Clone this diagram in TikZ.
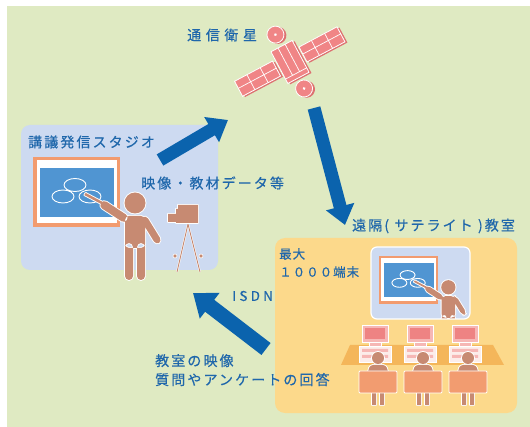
\documentclass[tikz,border=0pt]{standalone}
\usepackage{fontspec}
\usetikzlibrary{arrows.meta}
\newfontfamily\jpfont[LetterSpace=15,FakeBold=0.4]{Noto Sans CJK JP}
\newfontfamily\jpwidefont[LetterSpace=33,FakeBold=0.4]{Noto Sans CJK JP}
\newfontfamily\jpnarrowfont[LetterSpace=8,FakeBold=0.4]{Noto Sans CJK JP}
\newfontfamily\latinfont[LetterSpace=24,FakeBold=0.4]{Noto Sans CJK JP}
\definecolor{fieldgreen}{HTML}{DFEAC2}
\definecolor{studioblue}{HTML}{CDDAF1}
\definecolor{roomorange}{HTML}{FCD98B}
\definecolor{tableorange}{HTML}{F4B65A}
\definecolor{arrowblue}{HTML}{0B63AD}
\definecolor{textblue}{HTML}{1F67AB}
\definecolor{skinbrown}{HTML}{C78A72}
\definecolor{frameorange}{HTML}{F29B6F}
\definecolor{boardblue}{HTML}{5095D2}
\definecolor{satpink}{HTML}{F08586}
\definecolor{satshade}{HTML}{DD7070}
\definecolor{monitorpink}{HTML}{F6B7B5}
\definecolor{screenpink}{HTML}{EE8383}
\definecolor{keyboardwhite}{HTML}{FCEDEA}
\definecolor{chairorange}{HTML}{F29C70}
\tikzset{
  lbl/.style={font=\jpfont\fontsize{14}{19}\selectfont, text=textblue, inner sep=0pt, align=left},
  bigarrow/.style={draw=arrowblue, line width=13pt, -{Triangle[length=19pt,width=28pt]}},
  figoutline/.style={fill=white, draw=white, line width=1.8pt, line join=round},
  figfill/.style={fill=skinbrown},
  satpart/.style={fill=satpink, draw=white, line width=0.8pt},
  satshadow/.style={fill=satshade},
  tripod/.style={draw=white, double=skinbrown, double distance=0.9pt, line width=0.5pt},
  pics/lecture/.style={code={
    % board with three circles
    \fill[frameorange] (0,0) rectangle (87,70);
    \fill[white] (3.5,3.5) rectangle (83.5,66.5);
    \fill[boardblue] (7,11) rectangle (81,60);
    \draw[white, line width=0.9pt] (42,28) ellipse [x radius=11, y radius=6.5]
      (30,39.5) ellipse [x radius=11, y radius=6.5]
      (57,39.5) ellipse [x radius=11, y radius=6.5];
    % teacher with pointer
    \foreach \s in {figoutline,figfill} {
      \path[\s, shift={(102,46)}] (0,0) circle (10.5)
        (-10,45) [rounded corners=4pt] -- (-10,13) -- (10,13) -- (10,45) -- cycle
        (-10,40) -- (-10,77) -- (-2,77) -- (-2,40) -- cycle
        (2,40) -- (2,77) -- (10,77) -- (10,40) -- cycle
        (11,12.2) -- (27,38.2) -- (21,41.8) -- (5,15.8) -- cycle
        (-5.8,13.6) -- (-31.8,-3.4) -- (-36.2,3.4) -- (-10.2,20.4) -- cycle
        [sharp corners] (-32.4,-1.1) -- (-49.4,-10.1) -- (-50.6,-7.9) -- (-33.6,1.1) -- cycle;
    }
  }},
  pics/seat/.style={code={
    % computer
    \filldraw[monitorpink, draw=white, line width=0.8pt] (-13,0) rectangle (13,17);
    \fill[screenpink] (-10,3) rectangle (10,14);
    \filldraw[monitorpink, draw=white, line width=0.8pt] (-6,17) rectangle (6,21);
    \filldraw[keyboardwhite, draw=white, line width=0.8pt] (-16,21) rectangle (16,37);
    \fill[monitorpink] (-13,24) rectangle (13,27) (-13,30) rectangle (-2,33) (8,30) rectangle (13,33);
    % student
    \foreach \s in {figoutline,figfill} {
      \path[\s] (3,33) circle (6)
        (-8,50) [rounded corners=3pt] -- (-5,40) -- (11,40) -- (14,50) -- cycle
        [sharp corners] (-3,60) rectangle (1,80) (5,60) rectangle (9,80);
    }
    \filldraw[chairorange, draw=white, line width=0.8pt, rounded corners=1pt] (-16,46) rectangle (22,68);
  }}
}

\begin{document}
\begin{tikzpicture}[x=1pt, y=-1pt]
  \useasboundingbox (0,0) rectangle (530,427);
  \fill[white] (0,0) rectangle (530,427);
  \fill[fieldgreen] (7,6) rectangle (530,427);

  % studio
  \fill[studioblue, rounded corners=9pt] (21,125) rectangle (218,270);
  \pic at (33,157) {lecture};
  \draw[tripod] (188,224) -- (177,272) (188,224) -- (200,272);
  \filldraw[skinbrown, draw=white, line width=0.6pt] (175,256) circle (2) (201,256) circle (2);
  \foreach \s in {figoutline,figfill} {
    \path[\s] (176,209) -- (178,209) -- (178,205) -- (198,205) -- (198,223) -- (176,223) -- cycle
      (168,214) rectangle (176,222);
  }

  % satellite
  \begin{scope}[shift={(290,62)}, rotate=28]
    \foreach \s/\d in {satshadow/1.8,satpart/0} {
      \begin{scope}[shift={(\d,\d)}]
        \path[\s] (-58,-9) rectangle (-15,8) (15,-9) rectangle (58,8);
        \path[\s] (-12,-18) rectangle (12,18);
        \path[\s] (0,-31) circle (8.5) (0,30) circle (8.5);
      \end{scope}
    }
    \draw[white, line width=0.7pt] (-58,-1) -- (-15,-1) (-44,-9) -- (-44,8) (-29,-9) -- (-29,8)
      (15,-1) -- (58,-1) (29,-9) -- (29,8) (44,-9) -- (44,8)
      (-4,-18) -- (-4,13) (4,-18) -- (4,13) (-12,13) -- (12,13);
    \fill[white] (0,-31) circle (1.5) (0,30) circle (1.5);
  \end{scope}

  % satellite classroom
  \fill[roomorange, rounded corners=10pt] (275,238) rectangle (517,413);
  \fill[studioblue, rounded corners=6pt] (371,247) rectangle (470,319);
  \begin{scope}
    \clip[rounded corners=6pt] (371,247) rectangle (470,319);
    \pic[scale=0.68] at (379,256) {lecture};
  \end{scope}
  \draw[white, line width=1.2pt, rounded corners=6pt] (371,247) rectangle (470,319);
  \fill[tableorange] (350,345) -- (493,345) -- (504,365) -- (341,365) -- cycle;
  \foreach \cx in {375,420,465}
    \pic at (\cx,325) {seat};

  % links
  \coordinate (studio-out) at (160,160);
  \coordinate (sat-in) at (228,120);
  \coordinate (sat-out) at (314,108);
  \coordinate (room-in) at (345,225);
  \coordinate (room-out) at (266,349);
  \coordinate (studio-in) at (193,293);
  \draw[bigarrow] (studio-out) -- (sat-in);
  \draw[bigarrow] (sat-out) -- (room-in);
  \draw[bigarrow, line width=15pt, -{Triangle[length=21pt,width=31pt]}] (room-out) -- (studio-in);

  % labels
  \node[lbl, font=\jpwidefont\fontsize{14}{19}\selectfont, anchor=west] (sat-label) at (187,35) {通信衛星};
  \node[lbl, anchor=west] (studio-label) at (28,142) {講議発信スタジオ};
  \node[lbl, anchor=west] (media-label) at (141,183) {映像・教材データ等};
  \node[lbl, anchor=west] (room-label) at (352,226) {遠隔( サテライト )教室};
  \node[lbl, font=\jpnarrowfont\fontsize{12.5}{18}\selectfont, anchor=north west] (terminal-label) at (279,248) {最大\\１０００端末};
  \node[lbl, font=\latinfont\fontsize{13.5}{19}\selectfont, anchor=west] (isdn-label) at (232,296) {ISDN};
  \node[lbl, anchor=north west] (feedback-label) at (155,354) {教室の映像\\質問やアンケートの回答};
\end{tikzpicture}
\end{document}
